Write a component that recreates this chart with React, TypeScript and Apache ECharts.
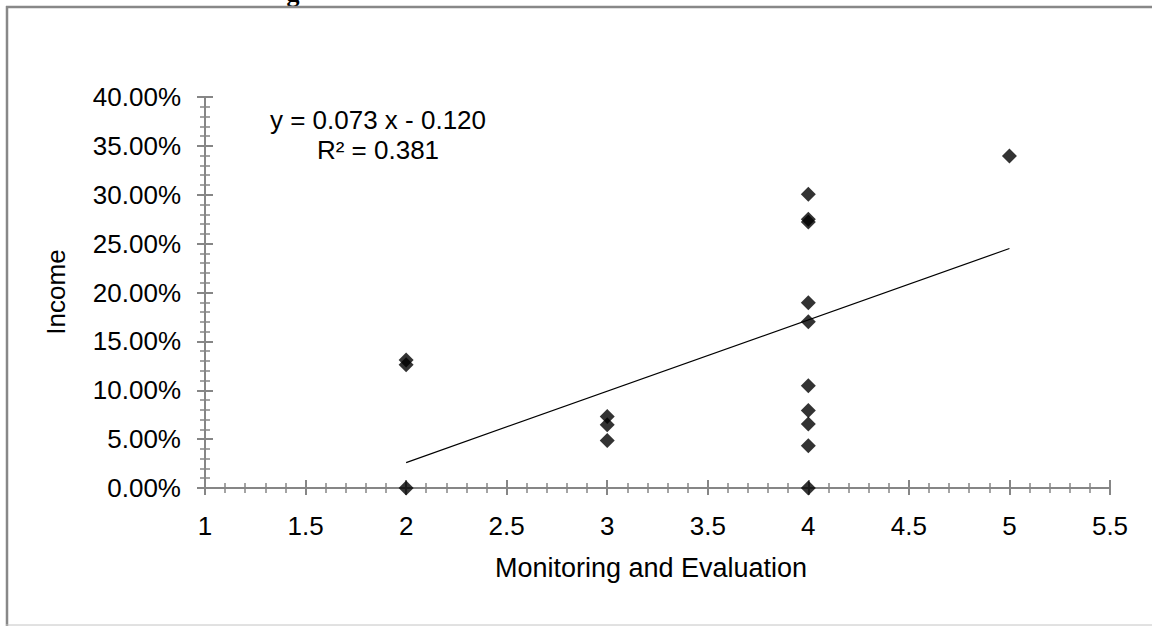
import React, { useEffect, useRef } from "react";
import * as echarts from "echarts";

// Data
const monitoringScores = [2, 2, 2, 3, 3, 3, 4, 4, 4, 4, 4, 4, 4, 4, 4, 4, 5];
const incomeShares = [
  0, 0.126, 0.131,
  0.0486, 0.0647, 0.0731,
  0, 0.0432, 0.0654, 0.0793, 0.1045, 0.17, 0.1896, 0.272, 0.275, 0.3006,
  0.3397,
];

// Linear trendline as displayed on the chart
const trendSlope = 0.073;
const trendIntercept = -0.12;
const trendXRange = [2, 5];
const trendEquation = ["y = 0.073 x - 0.120", "R² = 0.381"];

const xTitle = "Monitoring and Evaluation";
const yTitle = "Income";

const FONT = "'Liberation Sans', Arial, sans-serif";
const AXIS_GRAY = "#868686";

export default function App() {
  const ref = useRef<HTMLDivElement>(null);

  useEffect(() => {
    if (!ref.current) return;
    const chart = echarts.init(ref.current, undefined, { renderer: "svg" });

    const points = monitoringScores.map((x, i) => [x, incomeShares[i]]);
    const trendPoints = trendXRange.map((x) => [x, trendSlope * x + trendIntercept]);

    const gridBox = { left: 205, top: 97, width: 905, height: 391, containLabel: false };

    const xBase = {
      type: "value" as const,
      min: 1,
      max: 5.5,
      interval: 0.5,
      splitLine: { show: false },
      minorSplitLine: { show: false },
    };
    const yBase = {
      type: "value" as const,
      min: 0,
      max: 0.4,
      interval: 0.05,
      splitLine: { show: false },
      minorSplitLine: { show: false },
    };

    chart.setOption({
      animation: false,
      backgroundColor: "#ffffff",
      grid: [gridBox, gridBox],
      xAxis: [
        {
          ...xBase,
          gridIndex: 0,
          axisLine: { show: true, onZero: false, lineStyle: { color: AXIS_GRAY, width: 2 } },
          axisTick: { show: true, inside: false, length: 7, lineStyle: { color: AXIS_GRAY, width: 2 } },
          minorTick: { show: true, splitNumber: 5, length: 5, lineStyle: { color: AXIS_GRAY, width: 1.5 } },
          axisLabel: {
            margin: 25,
            fontSize: 26,
            color: "#000",
            fontFamily: FONT,
            formatter: (v: number) => String(v),
          },
        },
        {
          ...xBase,
          gridIndex: 1,
          axisLine: { show: false, onZero: false },
          axisTick: { show: true, inside: true, length: 8, lineStyle: { color: AXIS_GRAY, width: 2 } },
          minorTick: { show: true, splitNumber: 5, length: 5, lineStyle: { color: AXIS_GRAY, width: 1.5 } },
          axisLabel: { show: false },
        },
      ],
      yAxis: [
        {
          ...yBase,
          gridIndex: 0,
          axisLine: { show: true, onZero: false, lineStyle: { color: AXIS_GRAY, width: 2 } },
          axisTick: { show: true, inside: false, length: 8, lineStyle: { color: AXIS_GRAY, width: 2 } },
          minorTick: { show: true, splitNumber: 5, length: 5, lineStyle: { color: AXIS_GRAY, width: 1.5 } },
          axisLabel: {
            margin: 24,
            fontSize: 26,
            color: "#000",
            fontFamily: FONT,
            formatter: (v: number) => (v * 100).toFixed(2) + "%",
          },
        },
        {
          ...yBase,
          gridIndex: 1,
          axisLine: { show: false, onZero: false },
          axisTick: { show: true, inside: true, length: 8, lineStyle: { color: AXIS_GRAY, width: 2 } },
          minorTick: { show: true, splitNumber: 5, length: 5, lineStyle: { color: AXIS_GRAY, width: 1.5 } },
          axisLabel: { show: false },
        },
      ],
      series: [
        {
          type: "line",
          name: "Linear trend",
          xAxisIndex: 0,
          yAxisIndex: 0,
          data: trendPoints,
          symbol: "none",
          lineStyle: { color: "#000", width: 1.2 },
          silent: true,
          z: 2,
        },
        {
          type: "scatter",
          name: yTitle,
          xAxisIndex: 0,
          yAxisIndex: 0,
          data: points,
          symbol: "diamond",
          symbolSize: 15,
          itemStyle: { color: "#000" },
          z: 3,
        },
      ],
      graphic: [
        { type: "line", shape: { x1: 6, y1: 7, x2: 1152, y2: 7 }, style: { stroke: "#888", lineWidth: 2.5 } },
        { type: "line", shape: { x1: 7, y1: 6, x2: 7, y2: 626 }, style: { stroke: "#888", lineWidth: 2.5 } },
        { type: "line", shape: { x1: 6, y1: 625, x2: 1152, y2: 625 }, style: { stroke: "#c4c4c4", lineWidth: 1 } },
        {
          type: "text",
          x: 293,
          y: 6,
          z: -1,
          style: {
            text: "g",
            font: "bold 26px 'Liberation Serif', 'Times New Roman', serif",
            fill: "#000",
            textAlign: "center",
            textVerticalAlign: "bottom",
          },
        },
        {
          type: "text",
          x: 56,
          y: 292,
          rotation: Math.PI / 2,
          style: {
            text: yTitle,
            font: `26px ${FONT}`,
            fill: "#000",
            textAlign: "center",
            textVerticalAlign: "middle",
          },
        },
        {
          type: "text",
          x: 651,
          y: 568,
          style: {
            text: xTitle,
            font: `27px ${FONT}`,
            fill: "#000",
            textAlign: "center",
            textVerticalAlign: "middle",
          },
        },
        {
          type: "text",
          x: 378,
          y: 105,
          style: {
            text: trendEquation.join("\n"),
            font: `26px ${FONT}`,
            lineHeight: 30,
            fill: "#000",
            textAlign: "center",
            textVerticalAlign: "top",
          },
        },
      ],
    });

    return () => chart.dispose();
  }, []);

  return (
    <div
      ref={ref}
      style={{ position: "fixed", left: 0, top: 0, width: 1152, height: 626, background: "#fff" }}
    />
  );
}
